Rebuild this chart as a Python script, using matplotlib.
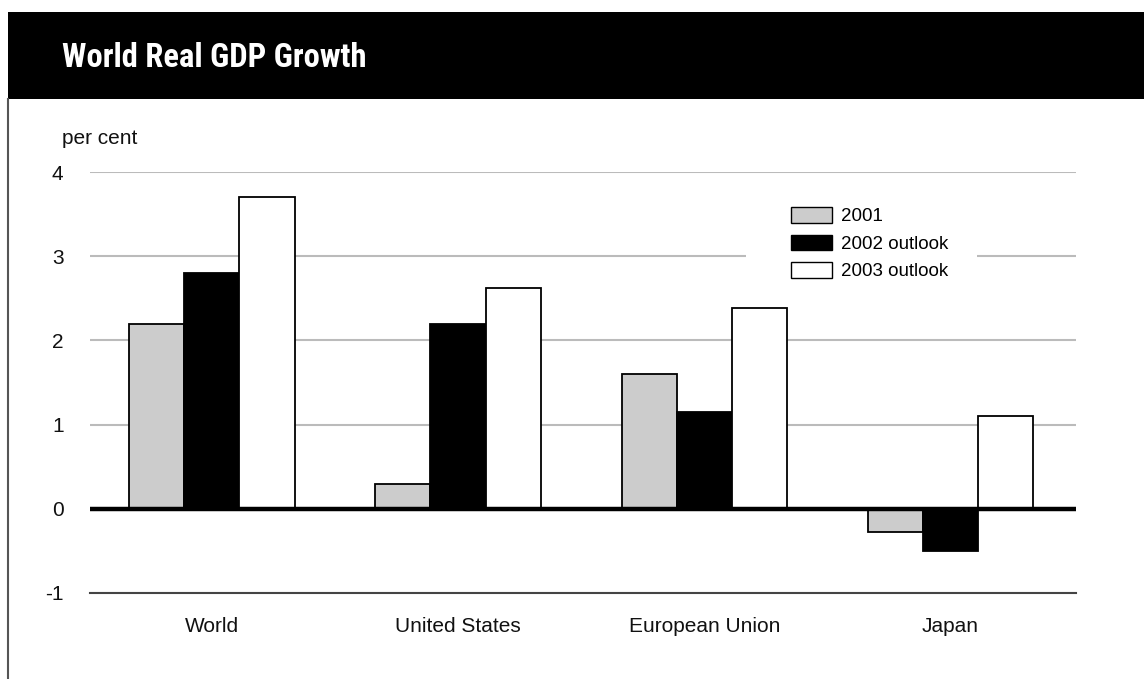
import matplotlib
matplotlib.use("Agg")
import matplotlib.pyplot as plt
import numpy as np
from matplotlib.patches import Rectangle, Patch
from matplotlib.lines import Line2D

categories = ["World", "United States", "European Union", "Japan"]
series_names = ["2001", "2002 outlook", "2003 outlook"]
v2001 = [2.2, 0.3, 1.6, -0.27]
v2002 = [2.8, 2.2, 1.15, -0.5]
v2003 = [3.7, 2.62, 2.38, 1.1]
yticks = [-1, 0, 1, 2, 3, 4]

plt.rcParams['font.family'] = ['Liberation Sans', 'DejaVu Sans']

W, H = 1144, 679
fig = plt.figure(figsize=(W / 100, H / 100), dpi=100)
fig.patch.set_facecolor("white")

# header band and left border
fig.patches.append(Rectangle((8 / W, 1 - 99 / H), 1 - 8 / W, 87 / H,
                             transform=fig.transFigure, facecolor="black",
                             edgecolor="none", zorder=0))
fig.lines.append(Line2D([8 / W, 8 / W], [0, 1 - 99 / H], transform=fig.transFigure,
                        color="#555555", linewidth=1.5))
fig.text(62 / W, 1 - 58 / H, "World Real GDP Growth", color="white",
         fontsize=23.5, fontweight="bold", va="center", ha="left",
         family=["Roboto Condensed", "Roboto", "Liberation Sans", "DejaVu Sans"])
fig.text(62 / W, 1 - 139 / H, "per cent", fontsize=15, va="center", ha="left",
         color="#111111")

ax = fig.add_axes([90 / W, 1 - 593 / H, (1076 - 90) / W, (593 - 172) / H])
x = np.arange(len(categories))
bw = 0.224
colors = ["#cccccc", "#000000", "#ffffff"]
for i, (vals, c, name) in enumerate(zip([v2001, v2002, v2003], colors, series_names)):
    ax.bar(x + (i - 1) * bw, vals, width=bw, color=c, edgecolor="black",
           linewidth=1.3, label=name, zorder=3)

ax.set_xlim(-0.495, 3.51)
ax.set_ylim(-1, 4)
ax.set_yticks(yticks)
ax.set_yticklabels([str(t) for t in yticks])
ax.set_xticks(x)
ax.set_xticklabels(categories)
ax.tick_params(axis="both", length=0, labelsize=15, colors="#111111")
ax.tick_params(axis="y", pad=19)
ax.tick_params(axis="x", pad=17)
for s in ["top", "right", "left"]:
    ax.spines[s].set_visible(False)
ax.spines["bottom"].set_color("#444444")
ax.spines["bottom"].set_linewidth(1.5)
ax.yaxis.grid(True, color="#bbbbbb", linewidth=1.5, zorder=0)
ax.set_axisbelow(True)
ax.axhline(0, color="black", linewidth=3.2, zorder=4)

# white legend area interrupting the gridline
def px2ax(px, py):
    return ((px - 90) / (1076 - 90), (593 - py) / (593 - 172))

x0, y0 = px2ax(746, 292)
x1, y1 = px2ax(977, 200)
ax.add_patch(Rectangle((x0, y0), x1 - x0, y1 - y0, transform=ax.transAxes,
                       facecolor="white", edgecolor="none", zorder=2))

handles = [Patch(facecolor=c, edgecolor="black", linewidth=1.0) for c in colors]
leg = ax.legend(handles, series_names, loc="upper left",
                bbox_to_anchor=px2ax(791, 207),
                frameon=False, fontsize=13.5, handlelength=2.2, handleheight=0.9,
                labelspacing=0.5, handletextpad=0.45, borderpad=0,
                borderaxespad=0)
leg.set_zorder(5)

fig.savefig("out.png", dpi=100)
